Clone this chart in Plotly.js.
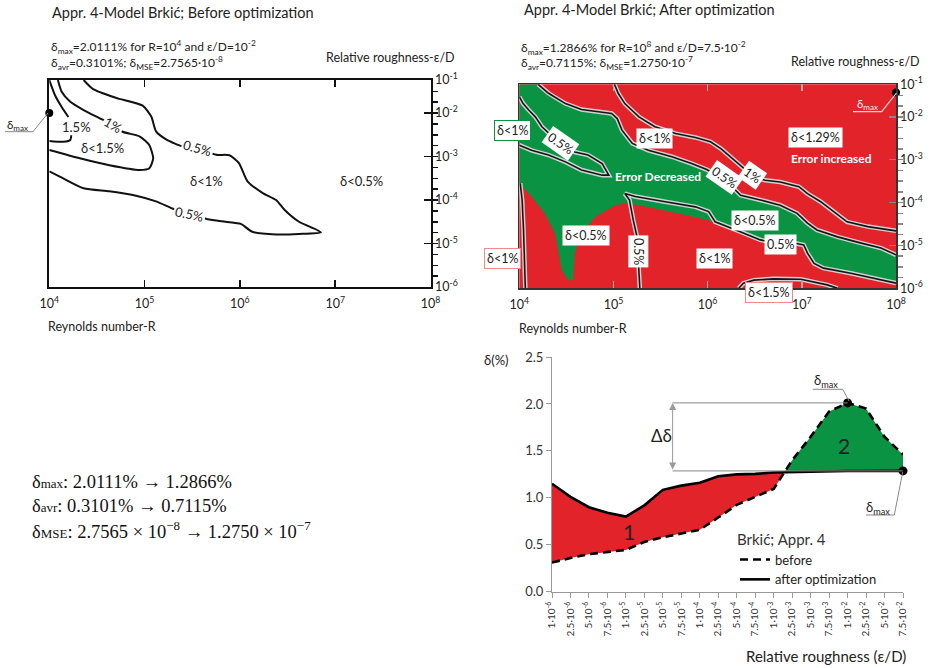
<!DOCTYPE html>
<html><head><meta charset="utf-8">
<script src="https://cdn.plot.ly/plotly-3.0.1.min.js"></script>
<style>body{margin:0;background:#fff}#chart{width:932px;height:668px}</style>
</head><body><div id="chart"></div>
<script>
// ===== Bottom chart data (δ % vs relative roughness) =====
const roughLabels = ['1·10<sup>-6</sup>','2.5·10<sup>-6</sup>','5·10<sup>-6</sup>','7.5·10<sup>-6</sup>','1·10<sup>-5</sup>','2.5·10<sup>-5</sup>','5·10<sup>-5</sup>','7.5·10<sup>-5</sup>','1·10<sup>-4</sup>','2.5·10<sup>-4</sup>','5·10<sup>-4</sup>','7.5·10<sup>-4</sup>','1·10<sup>-3</sup>','2.5·10<sup>-3</sup>','5·10<sup>-3</sup>','7.5·10<sup>-3</sup>','1·10<sup>-2</sup>','2.5·10<sup>-2</sup>','5·10<sup>-2</sup>','7.5·10<sup>-2</sup>'];
const deltaBefore = [0.31,0.36,0.40,0.42,0.445,0.53,0.58,0.62,0.66,0.79,0.925,1.01,1.095,1.40,1.65,1.92,2.0111,1.95,1.65,1.46];
const deltaAfter  = [1.15,1.01,0.90,0.84,0.80,0.92,1.085,1.13,1.16,1.23,1.25,1.255,1.27,1.275,1.28,1.28,1.285,1.285,1.285,1.2866];

// ===== Top-left (before): contour lines, x = log10(R), y = log10(ε/D) =====
const b15R = [4.0,4.06,4.13,4.20,null,4.23,4.22,4.15,4.0];
const b15E = [-1.24,-1.59,-1.86,-2.09,null,-2.51,-2.62,-2.66,-2.64];
const b1R  = [4.09,4.13,4.22,4.36,4.53,4.67,4.77,4.95,5.05,5.09,5.05,4.95,4.63,4.32,4.0];
const b1E  = [-1.24,-1.51,-1.74,-1.93,-2.12,-2.28,-2.43,-2.54,-2.74,-3.04,-3.27,-3.31,-3.20,-3.04,-2.85];
const b05R = [4.36,4.46,4.70,4.98,5.07,5.12,5.23,5.40,5.56,5.75,5.89,5.99,6.08,6.24,6.38,6.47,6.62,6.85,6.62,6.38,6.13,6.01,5.85,5.66,5.47,5.31,5.12,4.91,4.63,4.36,4.11,4.0];
const b05E = [-1.24,-1.45,-1.65,-1.83,-2.08,-2.42,-2.61,-2.77,-2.81,-2.96,-2.97,-3.15,-3.57,-3.84,-4.00,-4.23,-4.50,-4.74,-4.78,-4.79,-4.73,-4.55,-4.50,-4.44,-4.32,-4.21,-4.03,-3.90,-3.80,-3.73,-3.46,-3.34];
const bMaxR = [4.0], bMaxE = [-2.0];

// ===== Top-right (after): error-decreased region and contour lines =====
const greenR = [4.0,4.20,4.31,4.49,4.66,4.98,5.04,5.09,5.20,5.37,5.62,5.83,5.99,6.19,6.35,6.56,6.77,6.95,7.06,7.16,7.38,7.62,7.84,8.0,8.0,7.77,7.52,7.23,7.13,7.06,7.02,6.93,6.75,6.56,6.28,6.08,5.87,5.66,5.44,5.27,5.12,5.02,4.81,4.66,4.59,4.57,4.52,4.45,4.41,4.38,4.27,4.13,4.0];
const greenE = [-1.24,-1.24,-1.45,-1.69,-1.83,-1.92,-2.04,-2.31,-2.62,-2.78,-2.93,-3.09,-3.23,-3.48,-3.83,-3.94,-4.06,-4.25,-4.48,-4.64,-4.80,-4.94,-5.06,-5.22,-5.88,-5.77,-5.65,-5.53,-5.42,-5.18,-4.99,-4.95,-4.97,-4.87,-4.62,-4.45,-4.34,-4.25,-4.14,-4.06,-4.02,-4.06,-4.33,-4.72,-5.18,-5.81,-5.81,-5.57,-5.11,-4.72,-4.25,-3.86,-3.55];
const a05TopR = greenR.slice(1, 24), a05TopE = greenE.slice(1, 24);
const a1R = [5.01,5.05,5.12,5.27,5.44,5.66,5.87,6.03,6.14,6.28,6.38,6.49,6.61,6.77,6.97,7.06,7.20,7.34,7.48,7.70,8.0];
const a1E = [-1.24,-1.45,-1.69,-2.00,-2.23,-2.39,-2.48,-2.58,-2.74,-3.01,-3.18,-3.40,-3.48,-3.52,-3.63,-3.79,-3.98,-4.21,-4.45,-4.56,-4.66];
const aLensR = [4.0,4.04,4.10,4.17,4.24,4.43,4.59,4.73,4.88,4.95,4.88,4.66,4.49,4.31,4.13,4.0];
const aLensE = [-1.53,-1.69,-1.84,-2.0,-2.23,-2.62,-2.82,-2.89,-3.09,-3.36,-3.36,-3.24,-3.05,-2.89,-2.78,-2.66];
const aVR = [5.28,5.27,5.25,5.21,5.17,5.12,5.23,5.55,5.87,6.01,6.08,6.28,6.56,6.76,6.93,7.02,7.06,7.13,7.23,7.52,7.77,8.0];
const aVE = [-6.0,-5.50,-4.80,-4.41,-3.94,-3.79,-3.86,-3.98,-4.10,-4.21,-4.45,-4.62,-4.87,-4.97,-4.95,-4.99,-5.18,-5.42,-5.53,-5.65,-5.77,-5.88];
const aEdgeR = [4.01,4.03,4.045,4.055,4.064];
const aEdgeE = [-3.55,-3.94,-4.64,-5.34,-6.0];
const aDomeR = [6.33,6.38,6.49,6.70,6.99,7.13,7.27,7.38];
const aDomeE = [-6.0,-5.88,-5.81,-5.78,-5.79,-5.85,-5.92,-6.0];
const aMaxR = [8.0], aMaxE = [-1.43];

// axis tick labels
const reTickVals = [4,5,6,7,8];
const reTickText = ['10<sup>4</sup>','10<sup>5</sup>','10<sup>6</sup>','10<sup>7</sup>','10<sup>8</sup>'];
const rrTickVals = [-6,-5,-4,-3,-2,-1.24];
const rrTickText = ['10<sup>-6</sup>','10<sup>-5</sup>','10<sup>-4</sup>','10<sup>-3</sup>','10<sup>-2</sup>','10<sup>-1</sup>'];

// ===== helpers =====
const W = 932, H = 668;
const px = x => x / W, py = y => 1 - y / H;
const FONT = 'Lato, "Open Sans", sans-serif';
const RED = '#e2232a', GREEN = '#0a9343';

const traces = [];
function lineTrace(xa, ya, R, E, color, width, dash, shape) {
  return {type:'scatter', mode:'lines', x:R, y:E, xaxis:xa, yaxis:ya,
    line:{color:color, width:width, dash:dash || 'solid', shape: shape || 'linear', smoothing:0.6},
    hoverinfo:'skip', showlegend:false, connectgaps:false};
}
// --- left panel ---
[[b15R,b15E],[b1R,b1E],[b05R,b05E]].forEach(([r,e]) => traces.push(lineTrace('x','y',r,e,'#111',2,'solid','spline')));
traces.push({type:'scatter', mode:'markers', x:bMaxR, y:bMaxE, xaxis:'x', yaxis:'y', marker:{color:'#000', size:8}, cliponaxis:false, hoverinfo:'skip', showlegend:false});

// --- right panel ---
traces.push({type:'scatter', mode:'lines', x:greenR, y:greenE, xaxis:'x2', yaxis:'y2', fill:'toself', fillcolor:GREEN, line:{width:0, color:GREEN}, hoverinfo:'skip', showlegend:false});
[[a05TopR,a05TopE],[a1R,a1E],[aLensR,aLensE],[aVR,aVE],[aEdgeR,aEdgeE],[aDomeR,aDomeE]].forEach(([r,e]) => {
  traces.push(lineTrace('x2','y2',r,e,'rgba(215,215,215,0.95)',4.5));
  traces.push(lineTrace('x2','y2',r,e,'#141414',1.6));
});
traces.push({type:'scatter', mode:'markers', x:aMaxR, y:aMaxE, xaxis:'x2', yaxis:'y2', marker:{color:'#000', size:8}, cliponaxis:false, hoverinfo:'skip', showlegend:false});

// --- bottom chart: fills between curves (crossing points interpolated) ---
const fx = [], fb = [], fa = [];
for (let i = 0; i < deltaBefore.length; i++) {
  fx.push(i); fb.push(deltaBefore[i]); fa.push(deltaAfter[i]);
  if (i < deltaBefore.length - 1) {
    const d0 = deltaAfter[i] - deltaBefore[i], d1 = deltaAfter[i+1] - deltaBefore[i+1];
    if (d0 * d1 < 0) {
      const t = d0 / (d0 - d1);
      const yb = deltaBefore[i] + t * (deltaBefore[i+1] - deltaBefore[i]);
      fx.push(i + t); fb.push(yb); fa.push(yb);
    }
  }
}
const redLow = fx.map((_, k) => Math.min(fa[k], fb[k]));
const greenHigh = fx.map((_, k) => Math.max(fa[k], fb[k]));
const fillBase = {type:'scatter', mode:'lines', xaxis:'x3', yaxis:'y3', hoverinfo:'skip', showlegend:false};
traces.push(Object.assign({}, fillBase, {x:fx, y:redLow, line:{width:0}}));
traces.push(Object.assign({}, fillBase, {x:fx, y:fa, fill:'tonexty', fillcolor:RED, line:{width:0}}));
traces.push(Object.assign({}, fillBase, {x:fx, y:fa, line:{width:0}}));
traces.push(Object.assign({}, fillBase, {x:fx, y:greenHigh, fill:'tonexty', fillcolor:GREEN, line:{width:0}}));

const idx = deltaBefore.map((_, i) => i);
traces.push({type:'scatter', mode:'lines', name:'before', x:idx, y:deltaBefore, xaxis:'x3', yaxis:'y3', line:{color:'#000', width:2.6, dash:'8px,5px'}, hoverinfo:'skip'});
traces.push({type:'scatter', mode:'lines', name:'after optimization', x:idx, y:deltaAfter, xaxis:'x3', yaxis:'y3', line:{color:'#000', width:2.6}, hoverinfo:'skip'});
const iMaxB = deltaBefore.indexOf(Math.max(...deltaBefore));
const iMaxA = deltaAfter.indexOf(Math.max(...deltaAfter));
traces.push({type:'scatter', mode:'markers', x:[iMaxB, iMaxA], y:[deltaBefore[iMaxB], deltaAfter[iMaxA]], xaxis:'x3', yaxis:'y3', marker:{color:'#000', size:9}, cliponaxis:false, hoverinfo:'skip', showlegend:false});

// ===== annotations =====
const ann = [];
function A(o) { ann.push(Object.assign({showarrow:false, xanchor:'center', yanchor:'middle', font:{family:FONT, size:12, color:'#222'}}, o)); }
function P(x, y, text, size, extra) { A(Object.assign({xref:'paper', yref:'paper', x:px(x), y:py(y), text:text, font:{family:FONT, size:size, color:'#222'}}, extra || {})); }

// titles & stats
P(50, 12, 'Appr. 4-Model Brkić; Before optimization', 14.5, {xanchor:'left'});
P(49, 47, 'δ<sub>max</sub>=2.0111% for R=10<sup>4</sup> and ε/D=10<sup>-2</sup>', 12, {xanchor:'left'});
P(49, 63, 'δ<sub>avr</sub>=0.3101%; δ<sub>MSE</sub>=2.7565·10<sup>-8</sup>', 12, {xanchor:'left'});
P(457, 58, 'Relative roughness-ε/D', 12.5, {xanchor:'right'});
P(46, 326, 'Reynolds number-R', 12.5, {xanchor:'left'});

P(522, 10, 'Appr. 4-Model Brkić; After optimization', 14.5, {xanchor:'left'});
P(519, 48, 'δ<sub>max</sub>=1.2866% for R=10<sup>8</sup> and ε/D=7.5·10<sup>-2</sup>', 12, {xanchor:'left'});
P(519, 63, 'δ<sub>avr</sub>=0.7115%; δ<sub>MSE</sub>=1.2750·10<sup>-7</sup>', 12, {xanchor:'left'});
P(922, 61, 'Relative roughness-ε/D', 12.5, {xanchor:'right'});
P(517, 328, 'Reynolds number-R', 12.5, {xanchor:'left'});

// δmax labels
P(17, 125, 'δ<sub>max</sub>', 11.5);
P(867, 104, 'δ<sub>max</sub>', 11.5, {font:{family:FONT, size:11.5, color:'#f2f2f2'}});
P(826, 381, 'δ<sub>max</sub>', 13);
P(878, 508, 'δ<sub>max</sub>', 13);

// left panel contour & region labels
function L(x, y, text, extra) { A(Object.assign({xref:'x', yref:'y', x:x, y:y, text:text, font:{family:FONT, size:13, color:'#222'}}, extra || {})); }
L(4.29, -2.33, '1.5%');
L(4.67, -2.28, '1%', {textangle:30, bgcolor:'#fff'});
L(5.56, -2.81, '0.5%', {textangle:15, bgcolor:'#fff'});
L(5.47, -4.32, '0.5%', {textangle:12, bgcolor:'#fff'});
L(4.56, -2.81, 'δ&lt;1.5%');
L(5.65, -3.57, 'δ&lt;1%');
L(7.28, -3.57, 'δ&lt;0.5%');

// right panel labels
const boxFont = {family:FONT, size:12.5, color:'#222'};
function R(x, y, text, extra) { A(Object.assign({xref:'x2', yref:'y2', x:x, y:y, text:text, bgcolor:'#fff', borderpad:2, font:boxFont}, extra || {})); }
R(4.44, -2.62, '0.5%', {textangle:35});
R(5.44, -2.50, 'δ&lt;1%');
R(6.18, -3.41, '0.5%', {textangle:35});
R(6.48, -3.36, '1%', {textangle:35});
R(7.14, -2.48, 'δ&lt;1.29%');
R(6.50, -4.41, 'δ&lt;0.5%');
R(6.77, -4.97, '0.5%');
R(4.71, -4.76, 'δ&lt;0.5%');
R(5.26, -5.15, '0.5%', {textangle:90});
R(6.07, -5.30, 'δ&lt;1%');
// labels placed partly outside the plot frame (paper coordinates)
P(512.7, 130, 'δ&lt;1%', 12.5, {bgcolor:'#fff', borderpad:2, bordercolor:GREEN, borderwidth:1});
P(502.7, 258.3, 'δ&lt;1%', 12.5, {bgcolor:'#fff', borderpad:2, bordercolor:'#ee8a8a', borderwidth:1});
P(769.3, 292.3, 'δ&lt;1.5%', 12.5, {bgcolor:'#fff', borderpad:2, bordercolor:'#ee8a8a', borderwidth:1});
A({xref:'x2', yref:'y2', x:5.47, y:-3.38, text:'<b>Error Decreased</b>', font:{family:FONT, size:12, color:'#fff'}});
A({xref:'x2', yref:'y2', x:7.32, y:-2.96, text:'<b>Error increased</b>', font:{family:FONT, size:12, color:'#fff'}});

// bottom chart annotations
const arrowX = 6.53;
A({xref:'x3', yref:'y3', axref:'x3', ayref:'y3', x:arrowX, y:deltaBefore[iMaxB], ax:arrowX, ay:deltaAfter[iMaxA], text:'', showarrow:true, arrowside:'end+start', arrowhead:2, arrowsize:1.4, arrowwidth:1, arrowcolor:'#999'});
P(661, 435, 'Δδ', 17);
A({xref:'x3', yref:'y3', x:4.17, y:0.636, text:'1', font:{family:FONT, size:21, color:'#222'}});
A({xref:'x3', yref:'y3', x:15.8, y:1.56, text:'2', font:{family:FONT, size:21, color:'#222'}});
P(496, 360, 'δ(%)', 13);
P(908, 656, 'Relative roughness (ε/D)', 15, {xanchor:'right'});

// bottom-left summary text
const SERIF = '"Liberation Serif", "DejaVu Serif", serif';
const sm = s => '<span style="font-size:13px">' + s + '</span>';
const sumFont = {family:SERIF, size:18.5, color:'#111'};
P(30, 482, 'δ' + sm('max') + ': 2.0111% → 1.2866%', 18.5, {xanchor:'left', font:sumFont});
P(30, 506, 'δ' + sm('avr') + ': 0.3101% → 0.7115%', 18.5, {xanchor:'left', font:sumFont});
P(30, 530, 'δ' + sm('MSE') + ': 2.7565 × 10<sup>−8</sup> → 1.2750 × 10<sup>−7</sup>', 18.5, {xanchor:'left', font:sumFont});

// ===== shapes =====
const path = pts => 'M ' + pts.map(p => px(p[0]) + ',' + py(p[1])).join(' L ');
const shapes = [
  {type:'rect', xref:'x2 domain', yref:'y2 domain', x0:0, x1:1, y0:0, y1:1, fillcolor:RED, line:{width:0}, layer:'below'},
  {type:'path', xref:'paper', yref:'paper', path:path([[48,113],[33,131.7],[5,131.7]]), line:{color:'#888', width:1}},
  {type:'path', xref:'paper', yref:'paper', path:path([[896.5,93],[881.7,111.7],[853,111.7]]), line:{color:'#ddd', width:1.2}},
  {type:'path', xref:'paper', yref:'paper', path:path([[849,401],[842.7,389.3],[812.7,389.3]]), line:{color:'#888', width:1}},
  {type:'path', xref:'paper', yref:'paper', path:path([[902.7,472],[894.3,515],[866,515]]), line:{color:'#888', width:1}},
  {type:'line', xref:'x3', yref:'y3', x0:arrowX, x1:iMaxB, y0:deltaBefore[iMaxB], y1:deltaBefore[iMaxB], line:{color:'#888', width:1}},
  {type:'line', xref:'x3', yref:'y3', x0:arrowX, x1:iMaxA, y0:deltaAfter[iMaxA], y1:deltaAfter[iMaxA], line:{color:'#888', width:1}}
];

// ===== layout =====
const topX = (dom, lc, lw, tc) => ({domain:dom, range:[4,8], tickvals:reTickVals, ticktext:reTickText, ticks:'inside', ticklen:7, tickwidth:1.5, tickcolor:tc, showline:true, linecolor:lc, linewidth:lw, mirror:'ticks', showgrid:false, zeroline:false, ticklabelstandoff:4, tickfont:{family:FONT, size:12.5, color:'#222'}, fixedrange:true});
const topY = (dom, anchor, lc, lw, tc) => ({domain:dom, range:[-6,-1.24], side:'right', anchor:anchor, tickvals:rrTickVals, ticktext:rrTickText, ticks:'inside', ticklen:7, tickwidth:1.5, tickcolor:tc, showline:true, linecolor:lc, linewidth:lw, mirror:true, showgrid:false, zeroline:false, tickfont:{family:FONT, size:12.5, color:'#222'}, minor:{dtick:0.25, tick0:-6, ticks:'outside', ticklen:5, tickcolor:tc, showgrid:false}, fixedrange:true});

const layout = {
  width:W, height:H, margin:{l:0, r:0, t:0, b:0},
  paper_bgcolor:'#fff', plot_bgcolor:'rgba(0,0,0,0)',
  font:{family:FONT, size:12, color:'#222'},
  hovermode:false,
  xaxis: Object.assign(topX([px(49.3), px(430.5)], '#111', 2, '#111'), {anchor:'y'}),
  yaxis: topY([py(287), py(80)], 'x', '#111', 2, '#111'),
  xaxis2: Object.assign(topX([px(519.3), px(896)], '#333', 1.5, '#aaa'), {anchor:'y2'}),
  yaxis2: topY([py(288.3), py(84.3)], 'x2', '#333', 1.5, '#888'),
  xaxis3: {domain:[px(552), px(903)], anchor:'y3', range:[0,19], tickmode:'array', tickvals:idx, ticktext:roughLabels, tickangle:-90, ticks:'outside', ticklen:5, tickcolor:'#999', showline:true, linecolor:'#999', linewidth:1, showgrid:false, zeroline:false, tickfont:{family:FONT, size:10, color:'#333'}, fixedrange:true},
  yaxis3: {domain:[py(591.7), py(357)], anchor:'x3', range:[0,2.5], dtick:0.5, tickformat:'.1f', ticks:'outside', ticklen:5, tickcolor:'#999', showline:true, linecolor:'#999', linewidth:1, showgrid:false, zeroline:false, tickfont:{family:FONT, size:13, color:'#333'}, fixedrange:true},
  showlegend:true,
  legend:{x:px(735), y:py(525), xanchor:'left', yanchor:'top', traceorder:'normal', bgcolor:'rgba(0,0,0,0)', font:{family:FONT, size:13, color:'#222'}, title:{text:'Brkić; Appr. 4', font:{family:FONT, size:15, color:'#333'}}, tracegroupgap:0, itemwidth:30},
  annotations:ann,
  shapes:shapes
};

Plotly.newPlot('chart', traces, layout, {staticPlot:true, displayModeBar:false});
</script>
</body></html>
